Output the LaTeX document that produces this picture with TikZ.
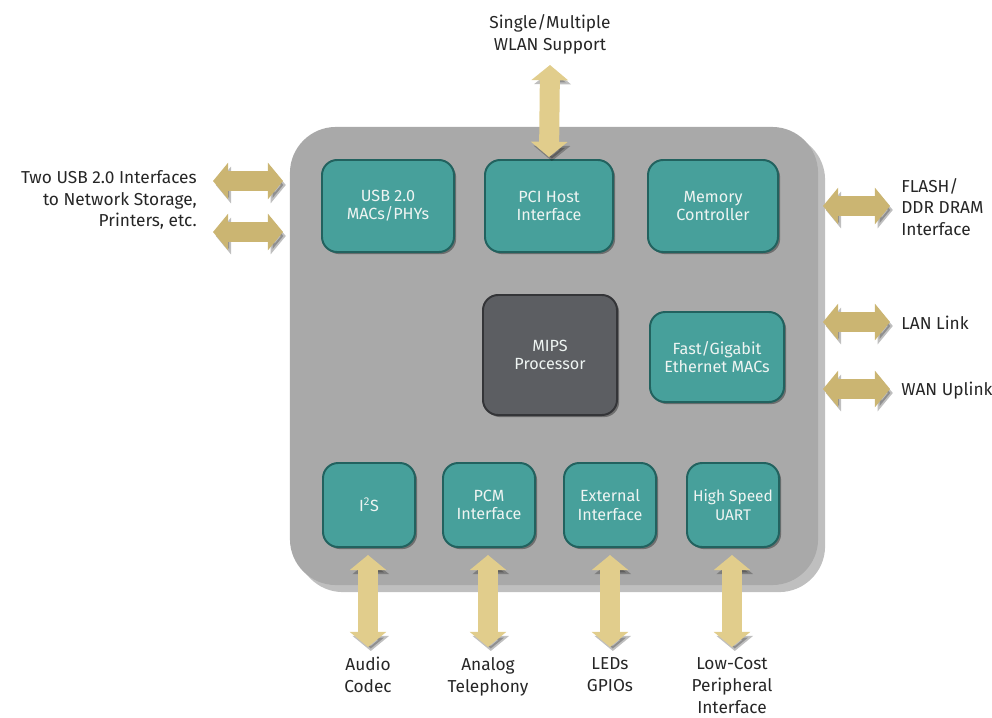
\documentclass[tikz,border=0pt]{standalone}
\usepackage{fontspec}
\setmainfont{Fira Sans}
\usetikzlibrary{arrows.meta,shadows}
\definecolor{tealfill}{HTML}{47A09B}
\definecolor{tealedge}{HTML}{22625F}
\definecolor{cpufill}{HTML}{5C5E62}
\definecolor{cpuedge}{HTML}{343538}
\definecolor{chipfill}{HTML}{A9A9A9}
\definecolor{arrowdark}{HTML}{CBB572}
\definecolor{arrowlight}{HTML}{E1CD8C}
\definecolor{labeltext}{HTML}{262626}
\definecolor{boxtext}{HTML}{EEF4F2}
\tikzset{
  chipbox/.style={fill=chipfill, draw=none, rounded corners=1.15cm,
    drop shadow={shadow xshift=5pt, shadow yshift=-5pt, opacity=0.25, fill=black}},
  blockbox/.style={fill=tealfill, draw=tealedge, line width=1.4pt, rounded corners=0.38cm,
    text=boxtext, align=center, font=\fontsize{11.5}{13}\selectfont,
    drop shadow={shadow xshift=1.5pt, shadow yshift=-1.5pt, opacity=0.35, fill=black}},
  cpubox/.style={blockbox, fill=cpufill, draw=cpuedge},
  outlabel/.style={text=labeltext, font=\fontsize{12.3}{15.5}\selectfont, inner sep=0pt},
  fatarrow/.style={line width=0.5cm,
    {Triangle[width=0.9cm,length=0.38cm]}-{Triangle[width=0.9cm,length=0.38cm]},
    preaction={draw=black, opacity=0.25, transform canvas={shift={(0.07cm,-0.1cm)}}}},
  harrow/.style={fatarrow, draw=arrowdark},
  varrow/.style={fatarrow, draw=arrowlight}
}
\begin{document}
\begin{tikzpicture}[x=0.025cm, y=-0.025cm]
\useasboundingbox (0,0) rectangle (992,717);
\clip (0,0) rectangle (992,717);

% chip
\node[chipbox, minimum width=13.2cm, minimum height=11.45cm] (chip) at (554,356) {};

% blocks
\node[blockbox, minimum width=3.3cm, minimum height=2.3cm] (usb) at (388,206) {USB 2.0\\MACs/PHYs};
\node[blockbox, minimum width=3.2cm, minimum height=2.3cm] (pci) at (549,206) {PCI Host\\Interface};
\node[blockbox, minimum width=3.25cm, minimum height=2.3cm] (mem) at (713,206) {Memory\\Controller};
\node[cpubox, minimum width=3.35cm, minimum height=3.0cm] (mips) at (550,355) {MIPS\\Processor};
\node[blockbox, minimum width=3.35cm, minimum height=2.25cm] (eth) at (717,357) {Fast/Gigabit\\Ethernet MACs};
\node[blockbox, minimum width=2.3cm, minimum height=2.1cm] (i2s) at (369,505) {I\textsuperscript{2}S};
\node[blockbox, minimum width=2.3cm, minimum height=2.1cm] (pcm) at (489,505) {PCM\\Interface};
\node[blockbox, minimum width=2.3cm, minimum height=2.1cm] (ext) at (610,505) {External\\Interface};
\node[blockbox, minimum width=2.3cm, minimum height=2.1cm, font=\fontsize{11}{13}\selectfont] (uart) at (733,505) {High Speed\\UART};

% outside labels
\node[outlabel, align=center] (wlan) at (550,34) {Single/Multiple\\WLAN Support};
\node[outlabel, align=right, anchor=east] (usbl) at (197,200) {Two USB 2.0 Interfaces\\to Network Storage,\\Printers, etc.};
\node[outlabel, align=left, anchor=west] (flash) at (901,207) {FLASH/\\DDR DRAM\\Interface};
\node[outlabel, anchor=west] (lan) at (901,323) {LAN Link};
\node[outlabel, anchor=west] (wan) at (901,391) {WAN Uplink};
\node[outlabel, align=center, anchor=north] (audio) at (368,657) {Audio\\Codec};
\node[outlabel, align=center, anchor=north] (tel) at (488,657) {Analog\\Telephony};
\node[outlabel, align=center, anchor=north] (led) at (610,657) {LEDs\\GPIOs};
\node[outlabel, align=center, anchor=north] (per) at (732,657) {Low-Cost\\Peripheral\\Interface};

% arrow end points
\coordinate (wlanA) at (550,65);
\coordinate (usbA1) at (213,181);
\coordinate (usbB1) at (283,181);
\coordinate (usbA2) at (213,232);
\coordinate (usbB2) at (283,232);
\coordinate (flashA) at (823,206);
\coordinate (flashB) at (890,206);
\coordinate (lanA) at (823,322);
\coordinate (lanB) at (890,322);
\coordinate (wanA) at (823,389);
\coordinate (wanB) at (890,389);
\coordinate (i2sA) at (368,555);
\coordinate (pcmA) at (488,555);
\coordinate (extA) at (610,555);
\coordinate (uartA) at (732,555);

% arrows
\draw[varrow] (wlanA) -- ([yshift=0.05cm]pci.north);
\draw[harrow] (usbA1) -- (usbB1);
\draw[harrow] (usbA2) -- (usbB2);
\draw[harrow] (flashA) -- (flashB);
\draw[harrow] (lanA) -- (lanB);
\draw[harrow] (wanA) -- (wanB);
\draw[varrow] (i2sA) -- ([yshift=0.25cm]audio.north);
\draw[varrow] (pcmA) -- ([yshift=0.25cm]tel.north);
\draw[varrow] (extA) -- ([yshift=0.25cm]led.north);
\draw[varrow] (uartA) -- ([yshift=0.25cm]per.north);
\end{tikzpicture}
\end{document}
